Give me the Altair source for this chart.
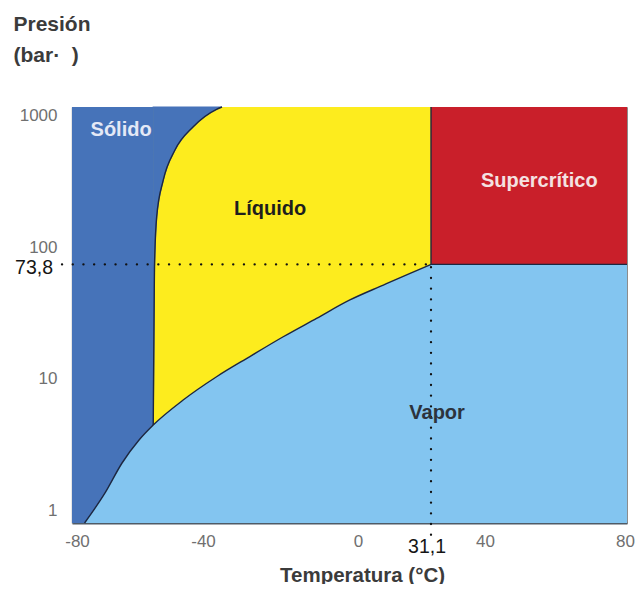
import altair as alt
import pandas as pd

# ---------------- data ----------------
T_MIN, T_MAX = -81.6, 80.6      # temperature extent of the plot (°C)
P_MIN, P_MAX = 0.811, 1150      # pressure extent of the plot (bar)

crit_T, crit_P = 31.1, 73.8     # critical point
triple_T, triple_P = -55.8, 4.48

# sublimation + vaporization curve (bottom edge -> triple point -> critical point)
curve_T = [-77.6, -71.1, -65.7, -60.3, -55.8, -46.3, -36.5, -27.9, -19.3, -10.7, -2.1, 10.8, 22.2, 31.1]
curve_P = [0.811, 1.37, 2.31, 3.45, 4.48, 6.93, 10.4, 14.8, 20.9, 28.8, 39.7, 51.5, 63.2, 73.8]

# melting curve (triple point -> top of the plot)
melt_T = [-55.8, -55.5, -55.4, -54.7, -52.6, -48.9, -43.1, -36.5, -35.1]
melt_P = [4.48, 39.7, 70.9, 170, 322, 543, 815, 1105, 1150]

region_names = ["Sólido", "Líquido", "Supercrítico", "Vapor"]
region_T = [-66.0, -22.7, 55.5, 32.1]
region_P = [770, 194, 316, 5.53]

x_ticks = [-80, -40, 0, 40, 80]
y_ticks = [1, 10, 100, 1000]
crit_T_label = "31,1"
crit_P_label = "73,8"

guide_T_start = -84.8   # where the dotted 73,8 guide starts (left of the axis)
guide_P_start = 0.66    # where the dotted 31,1 guide ends (below the axis)

# ---------------- styles ----------------
FONT = "Liberation Sans"
C_SOLID = "#4673B9"
C_LIQ = "#FDEC1E"
C_SUPER = "#C91F2A"
C_VAPOR = "#83C5F0"
C_EDGE = "#1d2740"
label_colors = ["#e4e9f6", "#1e1e1e", "#f4e2e2", "#2c333d"]

# piecewise temperature scale (the reference axis is not evenly spaced)
xs = alt.Scale(domain=[T_MIN, -80, -40, 0, 31.1, 40, 80, T_MAX],
               range=[0, 5, 131, 286, 359, 413, 553, 555], nice=False, zero=False)
ys = alt.Scale(type="log", domain=[P_MIN, P_MAX], nice=False)

x_axis = alt.Axis(
    values=x_ticks, format="d", ticks=False, grid=False,
    domainColor="#4f5b66", domainWidth=2,
    labelFont=FONT, labelFontSize=17, labelColor="#707070", labelPadding=10,
    labelFlush=False, labelOverlap=False,
    title="Temperatura (°C)", titleFont=FONT, titleFontSize=20.5, titleFontWeight="bold",
    titleColor="#3b3b3b", titleX=290, titleY=58, titleBaseline="alphabetic", titleAlign="center",
)

y_axis = alt.Axis(
    values=y_ticks, format="d", ticks=False, grid=False,
    domainColor="#9a9a9a", domainWidth=1.5,
    labelFont=FONT, labelFontSize=17, labelColor="#707070", labelPadding=15,
    labelFlush=False, labelOverlap=False,
    title=["Presión", "(bar·\u00a0\u00a0)"], titleAngle=0, titleAlign="left",
    titleBaseline="alphabetic", titleX=-59, titleY=-76.5, titleFont=FONT,
    titleFontSize=21, titleFontWeight="bold", titleColor="#3b3b3b", titleLineHeight=31,
)


def X(f="t"):
    return alt.X(f"{f}:Q", scale=xs, axis=x_axis)


def Y(f="p"):
    return alt.Y(f"{f}:Q", scale=ys, axis=y_axis)


bg_df = pd.DataFrame({"t": [T_MIN], "t2": [T_MAX], "p": [P_MIN], "p2": [P_MAX]})
liq_rect_df = pd.DataFrame({"t": [triple_T], "t2": [crit_T], "p": [P_MIN], "p2": [P_MAX]})
super_df = pd.DataFrame({"t": [crit_T], "t2": [T_MAX], "p": [crit_P], "p2": [P_MAX]})
vrect_df = pd.DataFrame({"t": [crit_T], "t2": [T_MAX], "p": [P_MIN], "p2": [crit_P]})
melt_df = pd.DataFrame({"t": melt_T, "p": melt_P, "p2": [P_MAX] * len(melt_T)})
vap_df = pd.DataFrame({"t": curve_T, "p": curve_P, "p2": [P_MIN] * len(curve_T)})
reg_df = pd.DataFrame({"t": region_T, "p": region_P, "name": region_names})
crit_lab_x_df = pd.DataFrame({"t": [crit_T], "p": [P_MIN], "txt": [crit_T_label]})
crit_lab_y_df = pd.DataFrame({"t": [T_MIN], "p": [crit_P], "txt": [crit_P_label]})

# background: solid phase everywhere, then the other phases painted over it
solid = alt.Chart(bg_df).mark_rect(color=C_SOLID).encode(
    x=X(), x2="t2:Q", y=Y(), y2="p2:Q")

liquid = alt.Chart(liq_rect_df).mark_rect(color=C_LIQ).encode(
    x=X(), x2="t2:Q", y=Y(), y2="p2:Q")

solid_cap = alt.Chart(melt_df).mark_area(
    color=C_SOLID, stroke=C_SOLID, strokeWidth=1.2, interpolate="monotone"
).encode(x=X(), y=Y(), y2="p2:Q")

supercrit = alt.Chart(super_df).mark_rect(color=C_SUPER).encode(
    x=X(), x2="t2:Q", y=Y(), y2="p2:Q")

vapor_area = alt.Chart(vap_df).mark_area(color=C_VAPOR, interpolate="monotone").encode(
    x=X(), y=Y(), y2="p2:Q")

vapor_rect = alt.Chart(vrect_df).mark_rect(color=C_VAPOR).encode(
    x=X(), x2="t2:Q", y=Y(), y2="p2:Q")

curve_line = alt.Chart(vap_df).mark_line(color=C_EDGE, strokeWidth=1.4, interpolate="monotone").encode(
    x=X(), y=Y())

melt_line = alt.Chart(melt_df).mark_line(color=C_EDGE, strokeWidth=1.4, interpolate="monotone").encode(
    x=X(), y=Y())

crit_v = alt.Chart(super_df).mark_rule(color=C_EDGE, strokeWidth=1.4).encode(
    x=X(), y=Y(), y2="p2:Q")

crit_h = alt.Chart(super_df).mark_rule(color=C_EDGE, strokeWidth=1.4).encode(
    x=X(), x2="t2:Q", y=Y())

dot_h_df = pd.DataFrame({"t": [guide_T_start], "t2": [crit_T], "p": [crit_P]})
dot_v_df = pd.DataFrame({"t": [crit_T], "p": [guide_P_start], "p2": [crit_P]})

dots_h = alt.Chart(dot_h_df).mark_rule(color="#111111", strokeWidth=2.3, strokeCap="round",
                                      strokeDash=[0.1, 10.6]).encode(x=X(), x2="t2:Q", y=Y())
dots_v = alt.Chart(dot_v_df).mark_rule(color="#111111", strokeWidth=2.3, strokeCap="round",
                                      strokeDash=[0.1, 10.6]).encode(x=X(), y=Y(), y2="p2:Q")

labels = alt.Chart(reg_df).mark_text(font=FONT, fontWeight="bold", fontSize=20,
                                     baseline="middle", align="center").encode(
    x=X(), y=Y(), text="name:N",
    color=alt.Color("name:N", scale=alt.Scale(domain=region_names, range=label_colors), legend=None))

# critical-point tick labels (black, larger than the other tick labels)
crit_x_text = alt.Chart(crit_lab_x_df).mark_text(
    font=FONT, fontSize=19.5, color="#151515", align="center", baseline="middle", dx=-4, dy=24
).encode(x=X(), y=Y(), text="txt:N")
crit_y_text = alt.Chart(crit_lab_y_df).mark_text(
    font=FONT, fontSize=19.5, color="#151515", align="right", baseline="middle", dx=-19, dy=4
).encode(x=X(), y=Y(), text="txt:N")

chart = alt.layer(
    solid, liquid, solid_cap, supercrit, vapor_area, vapor_rect,
    curve_line, melt_line, crit_v, crit_h, dots_h, dots_v, labels, crit_x_text, crit_y_text
).properties(
    width=555, height=416,
    autosize=alt.AutoSizeParams(type="none"),
    padding={"left": 64, "top": 99, "right": 8, "bottom": 61},
).configure(
    locale=alt.Locale(number=alt.NumberLocale(
        decimal=",", thousands=".", grouping=[3], currency=["", " €"], minus="-"))
).configure_view(stroke="#8c8c8c", strokeWidth=1)

chart.save("out.html", embed_options={"renderer": "svg", "actions": False})
